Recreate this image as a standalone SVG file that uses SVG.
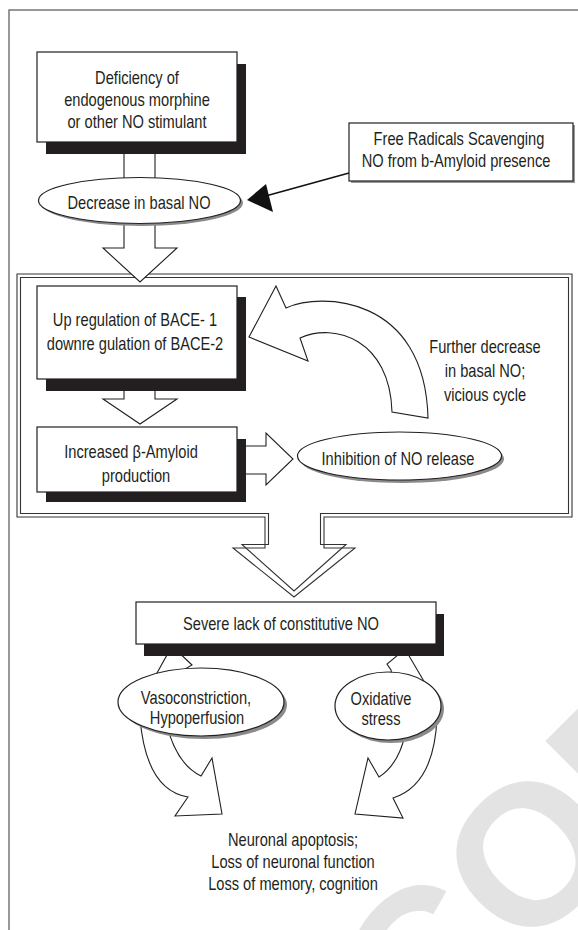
<svg xmlns="http://www.w3.org/2000/svg" width="578" height="930" viewBox="0 0 578 930">
<style>
text{font-family:'Liberation Sans Narrow','Liberation Sans',Arial,sans-serif;font-size:18.3px;fill:#231f20;text-anchor:middle}
.box{fill:#fff;stroke:#231f20;stroke-width:1.2}
.shadow{fill:#231f20}
.ell{fill:#fff;stroke:#231f20;stroke-width:1.2}
.eshadow{fill:#8a8a8a}
.arr{fill:#fff;stroke:#231f20;stroke-width:1.1;stroke-linejoin:miter}
.dbl{fill:none;stroke:#333;stroke-width:1.1}
.wm{font-family:'Liberation Sans',sans-serif;font-weight:bold;font-size:200px;fill:#e3e3e3;text-anchor:start}
</style>
<rect width="578" height="930" fill="#fff"/>
<text class="wm" x="0" y="0" transform="translate(421,1060) rotate(-45)">COPY</text>
<path d="M9,930 L9,10 L578,10" fill="none" stroke="#777" stroke-width="1.5"/>

<g id="frame">
<path class="dbl" d="M17,274 L572,274 L572,517 L324,517 L324,548 L355,548 L294,597 L233,548 L265,548 L265,517 L17,517 Z" style="fill:#fff"/>
<path class="dbl" d="M20.5,277.5 L568.5,277.5 L568.5,513.5 L320.5,513.5 L320.5,544.5 L346,544.5 L294,591 L242,544.5 L268.5,544.5 L268.5,513.5 L20.5,513.5 Z"/>
</g>

<g id="connectors">
<rect class="arr" x="124" y="138" width="31" height="50"/>
<path class="arr" d="M124,215 L155,215 L155,248 L177,248 L140,282 L103,248 L124,248 Z"/>
<path class="arr" d="M124,375 L155,375 L155,399 L177,399 L140,424 L103,399 L124,399 Z"/>
<path class="arr" d="M240,446 L266,446 L266,433 L293,459 L266,485 L266,474 L240,474 Z"/>
<path class="arr" d="M249,337 L276,286 L286,308 C320,292 425,295 428,418 L392,412 C390,340 335,322 300,338 L308,361 Z"/>
<path class="arr" d="M172,646 L192,665 L185,669 L180,690 L152,690 L157,673 Z"/>
<path class="arr" d="M405,649 L425,683 L420,700 L395,700 L391,670 L387,664 Z"/>
<path class="arr" d="M140,718 Q146,790 188,797 L175,816 L222,814 L212,758 L201,776 Q176,764 166,722 Z"/>
<path class="arr" d="M437,718 Q434,785 393,798 L403,818 L355,814 L368,758 L379,777 Q398,765 405,735 Z"/>
<line x1="349" y1="173" x2="262" y2="197" stroke="#111" stroke-width="1.5"/>
<path d="M247,200 L266,184 L273,212 Z" fill="#111"/>
</g>

<g id="n-deficiency">
<rect class="shadow" x="46" y="64" width="200" height="90"/>
<rect class="box" x="37" y="52" width="200" height="90"/>
<text transform="translate(137,84) scale(0.8,1)">Deficiency of</text>
<text transform="translate(137,106) scale(0.8,1)">endogenous morphine</text>
<text transform="translate(137,128) scale(0.8,1)">or other NO stimulant</text>
</g>

<g id="n-decrease">
<ellipse class="eshadow" cx="142" cy="203" rx="101" ry="23"/>
<ellipse class="ell" cx="139.5" cy="200.5" rx="101" ry="23"/>
<text transform="translate(139,209) scale(0.8,1)">Decrease in basal NO</text>
</g>

<g id="n-freeradicals">
<rect x="351" y="125" width="224" height="58" fill="#999"/>
<rect class="box" x="349" y="123" width="224" height="58"/>
<text transform="translate(459,145) scale(0.8,1)">Free Radicals Scavenging</text>
<text transform="translate(456,167) scale(0.8,1)">NO from b-Amyloid presence</text>
</g>

<g id="n-bace">
<rect class="shadow" x="46" y="297" width="200" height="94"/>
<rect class="box" x="37" y="286" width="200" height="93"/>
<text transform="translate(135,326) scale(0.8,1)">Up regulation of BACE- 1</text>
<text transform="translate(135,350) scale(0.8,1)">downre gulation of BACE-2</text>
</g>

<g id="n-amyloid">
<rect class="shadow" x="46" y="439" width="200" height="63"/>
<rect class="box" x="37" y="427" width="200" height="65"/>
<text transform="translate(131,458) scale(0.8,1)">Increased β-Amyloid</text>
<text transform="translate(136,482) scale(0.8,1)">production</text>
</g>

<g id="n-inhibition">
<ellipse class="eshadow" cx="402" cy="459" rx="102" ry="24"/>
<ellipse class="ell" cx="399.5" cy="456" rx="102" ry="24"/>
<text transform="translate(398,465) scale(0.8,1)">Inhibition of NO release</text>
</g>

<g id="n-further">
<text transform="translate(485,353) scale(0.8,1)">Further decrease</text>
<text transform="translate(485,377) scale(0.8,1)">in basal NO;</text>
<text transform="translate(485,401) scale(0.8,1)">vicious cycle</text>
</g>

<g id="n-severe">
<rect class="shadow" x="144" y="614" width="300" height="42"/>
<rect class="box" x="136" y="602" width="300" height="42"/>
<text transform="translate(281,630) scale(0.8,1)">Severe lack of constitutive NO</text>
</g>

<g id="n-vaso">
<ellipse class="eshadow" cx="204" cy="705" rx="83" ry="34"/>
<ellipse class="ell" cx="201" cy="702" rx="83" ry="34"/>
<text transform="translate(196,704) scale(0.8,1)">Vasoconstriction,</text>
<text transform="translate(197,724) scale(0.8,1)">Hypoperfusion</text>
</g>

<g id="n-oxidative">
<ellipse class="eshadow" cx="391" cy="709" rx="53" ry="34"/>
<ellipse class="ell" cx="388" cy="706" rx="53" ry="34"/>
<text transform="translate(381,705) scale(0.8,1)">Oxidative</text>
<text transform="translate(381,725) scale(0.8,1)">stress</text>
</g>

<g id="n-outcome">
<text transform="translate(293,846) scale(0.8,1)">Neuronal apoptosis;</text>
<text transform="translate(293,868) scale(0.8,1)">Loss of neuronal function</text>
<text transform="translate(293,890) scale(0.8,1)">Loss of memory, cognition</text>
</g>
</svg>
